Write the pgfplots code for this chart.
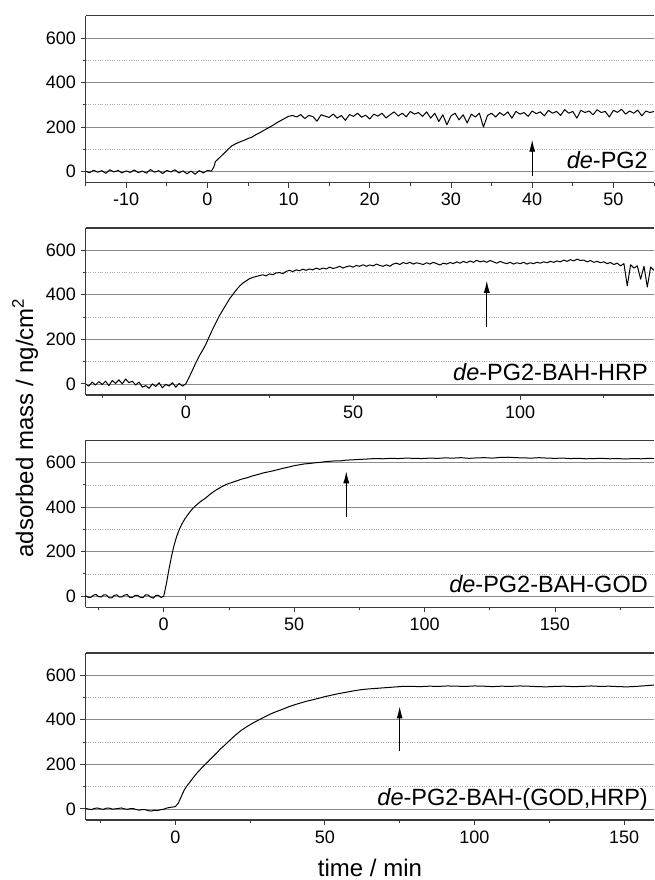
\documentclass[border=0pt]{standalone}
\usepackage{fontspec}
\setmainfont{Liberation Sans}
\usepackage{pgfplots}
\pgfplotsset{compat=1.18}
\usetikzlibrary{arrows.meta}
\definecolor{axcol}{HTML}{3A3A3A}
\definecolor{majgrid}{HTML}{8C8C8C}
\definecolor{mingrid}{HTML}{A8A8A8}
\pgfplotsset{
  panel/.style={
    scale only axis, width=568.5pt, height=167pt, anchor=south west,
    ymin=-50, ymax=700,
    ytick={0,200,400,600}, minor ytick={100,300,500},
    ymajorgrids, yminorgrids,
    major grid style={majgrid, line width=0.7pt},
    minor grid style={mingrid, dotted, line width=0.6pt},
    axis y line*=left, axis x line*=box,
    xtick pos=left, ytick pos=left,
    tick align=outside,
    major tick length=5pt, minor tick length=3pt,
    every tick/.style={axcol, line width=0.8pt},
    axis line style={axcol, line width=1.1pt},
    tick label style={font=\fontsize{18}{20}\selectfont},
    /pgf/number format/assume math mode=true,
    /pgf/number format/1000 sep={},
    xticklabel style={yshift=-2pt},
    yticklabel style={xshift=-1pt},
  },
  dataline/.style={black, line width=1.0pt, line join=round},
  arr/.style={black, line width=0.9pt, -{Latex[length=12pt,width=6pt]}},
}
\tikzset{lab/.style={anchor=base east, font=\fontsize{23.5}{26}\selectfont, inner sep=0pt}}
\begin{document}
\begin{tikzpicture}
\useasboundingbox (0,0) rectangle (654pt,880pt);
% ---------------- Panel 1
\begin{axis}[panel, at={(85.5pt,697.3pt)},
  xmin=-15, xmax=55, xtick={-10,0,...,50}, minor xtick={-15,-5,...,55}]
\addplot[dataline] coordinates {
(-15,2)(-14.5,-5)(-14,6)(-13.5,-3)(-13,4)(-12.5,-8)(-12,8)(-11.5,-2)(-11,5)(-10.5,-6)
(-10,3)(-9.5,-4)(-9,7)(-8.5,-5)(-8,2)(-7.5,-7)(-7,9)(-6.5,-3)(-6,4)(-5.5,-9)
(-5,5)(-4.5,-2)(-4,8)(-3.5,-6)(-3,3)(-2.5,-10)(-2,2)(-1.5,-12)(-1,4)(-0.5,-6)
(0,5)(0.5,2)(0.8,20)(1,45)(1.5,62)(2,80)(2.5,98)(3,115)(3.5,125)(4,133)(4.5,140)
(5,148)(5.5,155)(6,166)(6.5,175)(7,186)(7.5,196)(8,206)(8.5,218)(9,228)(9.5,238)
(10,248)(10.5,252)(11,245)(11.5,256)(12,238)(12.5,252)(13,247)(13.5,226)(14,255)(14.5,249)
(15,243)(15.5,258)(16,240)(16.5,252)(17,230)(17.5,256)(18,248)(18.5,262)(19,244)(19.5,253)
(20,236)(20.5,258)(21,249)(21.5,262)(22,241)(22.5,255)(23,268)(23.5,250)(24,262)(24.5,246)
(25,270)(25.5,258)(26,265)(26.5,248)(27,268)(27.5,240)(28,262)(28.5,225)(29,255)(29.5,210)
(30,250)(30.5,262)(31,232)(31.5,255)(32,218)(32.5,258)(33,245)(33.5,262)(34,200)(34.5,252)
(35,262)(35.5,245)(36,265)(36.5,252)(37,268)(37.5,240)(38,270)(38.5,258)(39,265)(39.5,248)
(40,272)(40.5,260)(41,268)(41.5,250)(42,275)(42.5,262)(43,270)(43.5,252)(44,278)(44.5,262)
(45,270)(45.5,240)(46,275)(46.5,265)(47,272)(47.5,255)(48,278)(48.5,265)(49,270)(49.5,245)
(50,275)(50.5,266)(51,280)(51.5,258)(52,272)(52.5,262)(53,276)(53.5,250)(54,272)(54.5,265)(55,270)
};
\addplot[arr] coordinates {(40,-22) (40,143)};
\node[lab] at (rel axis cs:0.9894,0.087) {\textit{de}-PG2};
\end{axis}
% ---------------- Panel 2
\begin{axis}[panel, at={(85.5pt,485pt)},
  xmin=-30, xmax=140, xtick={0,50,100}, minor xtick={-25,25,75,125}]
\addplot[dataline] coordinates {
(-30,0)(-29,-10)(-28,8)(-27,-5)(-26,10)(-25,-3)(-24,12)(-23,-8)(-22,15)(-21,2)
(-20,18)(-19,0)(-18,22)(-17,5)(-16,12)(-15,-5)(-14,8)(-13,-15)(-12,-8)(-11,-20)
(-10,0)(-9,-12)(-8,5)(-7,-18)(-6,-2)(-5,-10)(-4,5)(-3,-15)(-2,2)(-1,-10)
(0,0)(1,30)(2,62)(3,95)(4,125)(5,150)(6,178)(7,212)(8,245)(9,275)
(10,305)(11,330)(12,355)(13,380)(14,400)(15,420)(16,438)(17,452)(18,462)(19,472)
(20,478)(21,482)(22,486)(23,490)(24,485)(25,494)(26,490)(27,498)(28,500)(29,495)
(30,505)(31,510)(32,504)(33,512)(34,508)(35,515)(36,510)(37,516)(38,512)(39,520)
(40,514)(41,520)(42,516)(43,524)(44,518)(45,522)(46,528)(47,520)(48,526)(49,530)
(50,524)(51,532)(52,528)(53,535)(54,528)(55,534)(56,530)(57,538)(58,532)(59,528)
(60,535)(61,528)(62,538)(63,542)(64,536)(65,545)(66,540)(67,546)(68,538)(69,544)
(70,540)(71,536)(72,544)(73,538)(74,546)(75,540)(76,534)(77,542)(78,538)(79,545)
(80,540)(81,548)(82,542)(83,550)(84,544)(85,552)(86,546)(87,555)(88,548)(89,552)
(90,546)(91,554)(92,548)(93,542)(94,550)(95,544)(96,540)(97,546)(98,538)(99,544)
(100,540)(101,546)(102,538)(103,544)(104,540)(105,546)(106,542)(107,548)(108,544)(109,550)
(110,546)(111,552)(112,548)(113,556)(114,550)(115,558)(116,552)(117,560)(118,554)(119,556)
(120,548)(121,554)(122,546)(123,550)(124,544)(125,548)(126,540)(127,545)(128,536)(129,542)
(130,530)(131,540)(132,440)(133,535)(134,520)(135,530)(136,470)(137,528)(138,435)(139,525)(140,510)
};
\addplot[arr] coordinates {(90,255) (90,463)};
\node[lab] at (rel axis cs:0.9894,0.087) {\textit{de}-PG2-BAH-HRP};
\end{axis}
% ---------------- Panel 3
\begin{axis}[panel, at={(85.5pt,272.7pt)},
  xmin=-30, xmax=188, xtick={0,50,100,150}, minor xtick={-25,25,75,125,175}]
\addplot[dataline] coordinates {
(-30,2)(-29,-5)(-28,-6)(-27,4)(-26,8)(-25,-2)(-24,-4)(-23,6)(-22,5)(-21,-7)
(-20,-8)(-19,3)(-18,6)(-17,-4)(-16,-3)(-15,5)(-14,7)(-13,-6)(-12,-5)(-11,3)
(-10,4)(-9,-5)(-8,-7)(-7,6)(-6,5)(-5,-4)(-4,-9)(-3,4)(-2,3)(-1,-6)
(0,0)(1,55)(2,120)(3,180)(4,230)(5,270)(6,300)(7,325)(8,345)(9,362)
(10,378)(11,392)(12,404)(13,414)(14,424)(16,440)(18,460)(20,476)(22,490)(24,502)
(26,510)(28,518)(30,526)(32,532)(34,540)(36,546)(38,553)(40,558)(42,563)(44,569)
(46,575)(48,580)(50,586)(52,590)(54,594)(56,596)(58,599)(60,601)(62,604)(64,606)
(66,608)(68,608)(70,611)(72,612)(75,614)(78,616)(81,618)(84,617)(87,619)(90,618)
(93,620)(96,619)(99,618)(102,620)(105,619)(108,621)(111,620)(114,622)(117,619)(120,621)
(123,622)(126,620)(129,623)(132,624)(135,622)(138,621)(141,620)(144,622)(147,620)(150,619)
(153,620)(156,618)(159,619)(162,617)(165,618)(168,619)(171,617)(174,618)(177,616)(180,618)
(183,617)(186,619)(188,618)
};
\addplot[arr] coordinates {(70,355) (70,561)};
\node[lab] at (rel axis cs:0.9894,0.087) {\textit{de}-PG2-BAH-GOD};
\end{axis}
% ---------------- Panel 4
\begin{axis}[panel, at={(85.5pt,60pt)},
  xmin=-30, xmax=160, xtick={0,50,100,150}, minor xtick={-25,25,75,125}]
\addplot[dataline] coordinates {
(-30,2)(-29,-1)(-28,-3)(-27,2)(-26,4)(-25,0)(-24,-2)(-23,3)(-22,3)(-21,-1)
(-20,0)(-19,2)(-18,4)(-17,0)(-16,-2)(-15,1)(-14,1)(-13,-3)(-12,-6)(-11,-3)
(-10,-4)(-9,-8)(-8,-10)(-7,-6)(-6,-8)(-5,-4)(-4,-2)(-3,3)(-2,6)(-1,8)
(0,10)(1,25)(2,55)(3,85)(4,105)(5,122)(6,140)(7,157)(8,172)(9,186)
(10,200)(11,213)(12,226)(13,240)(14,253)(15,268)(16,280)(17,292)(18,305)(20,330)
(22,352)(24,370)(26,386)(28,400)(30,414)(32,427)(34,438)(36,448)(38,459)(40,468)
(42,476)(44,484)(46,490)(48,497)(50,504)(52,510)(54,516)(56,521)(58,526)(60,531)
(62,535)(64,538)(66,540)(68,542)(70,544)(72,546)(74,548)(76,550)(79,550)(82,549)
(85,551)(88,550)(91,552)(94,551)(97,550)(100,552)(103,551)(106,549)(109,551)(112,550)
(115,552)(118,551)(121,549)(124,548)(127,550)(130,551)(133,549)(136,550)(139,552)(142,550)
(145,551)(148,549)(151,548)(154,550)(157,553)(160,556)
};
\addplot[arr] coordinates {(75,258) (75,460)};
\node[lab] at (rel axis cs:0.9894,0.087) {\textit{de}-PG2-BAH-(GOD,HRP)};
\end{axis}
\node[rotate=90, anchor=base, font=\fontsize{24}{28}\selectfont, inner sep=0pt]
  at (33pt,452pt) {adsorbed mass / ng/cm\textsuperscript{2}};
\node[anchor=base, font=\fontsize{24}{28}\selectfont, inner sep=0pt]
  at (370pt,4pt) {time / min};
\end{tikzpicture}
\end{document}
